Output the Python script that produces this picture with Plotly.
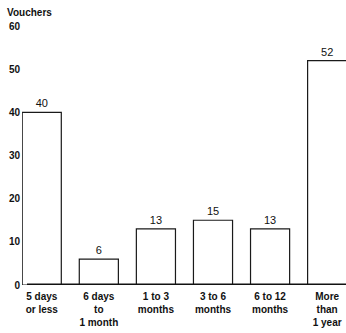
import plotly.graph_objects as go

# Age of vouchers at time of payment
categories = ["5 days<br>or less", "6 days<br>to<br>1 month", "1 to 3<br>months",
              "3 to 6<br>months", "6 to 12<br>months", "More<br>than<br>1 year"]
vouchers = [40, 6, 13, 15, 13, 52]
y_ticks = [0, 10, 20, 30, 40, 50, 60]

positions = list(range(len(categories)))

LEFT = 22
PLOT_W = 346 - LEFT

fig = go.Figure()
fig.add_trace(go.Bar(
    x=positions,
    y=vouchers,
    width=0.685,
    marker=dict(color="white", line=dict(color="#1a1a1a", width=1.2)),
    text=[str(v) for v in vouchers],
    textposition="outside",
    textfont=dict(family="Liberation Sans, Arial", size=11, color="#111"),
    cliponaxis=False,
    showlegend=False,
))

fig.update_layout(
    width=346, height=333,
    margin=dict(l=LEFT, r=0, t=26, b=48),
    paper_bgcolor="white", plot_bgcolor="white",
    font=dict(family="Liberation Sans, Arial", color="#111"),
    xaxis=dict(
        range=[-0.346, 5.33],
        tickmode="array", tickvals=positions,
        ticktext=[f"<b>{c}</b>" for c in categories],
        tickfont=dict(size=10),
        showgrid=False, zeroline=False, showline=False,
        ticks="", ticklabelstandoff=4,
    ),
    yaxis=dict(
        range=[0, 60],
        tickmode="array", tickvals=y_ticks,
        ticktext=[f"<b>{t}</b>" for t in y_ticks],
        tickfont=dict(size=10),
        showgrid=False, zeroline=False, showline=False,
        ticks="", ticklabelstandoff=1,
    ),
    annotations=[dict(
        text="<b>Vouchers</b>", xref="paper", yref="paper",
        x=-(LEFT - 5) / PLOT_W, y=1.0, xanchor="left", yanchor="bottom", yshift=6,
        showarrow=False, font=dict(size=10, color="#111"),
    )],
    shapes=[dict(
        type="line", xref="paper", yref="y", x0=5 / PLOT_W, x1=1, y0=0, y1=0,
        line=dict(color="#111", width=3),
    )],
)

fig.write_html("out.html")
